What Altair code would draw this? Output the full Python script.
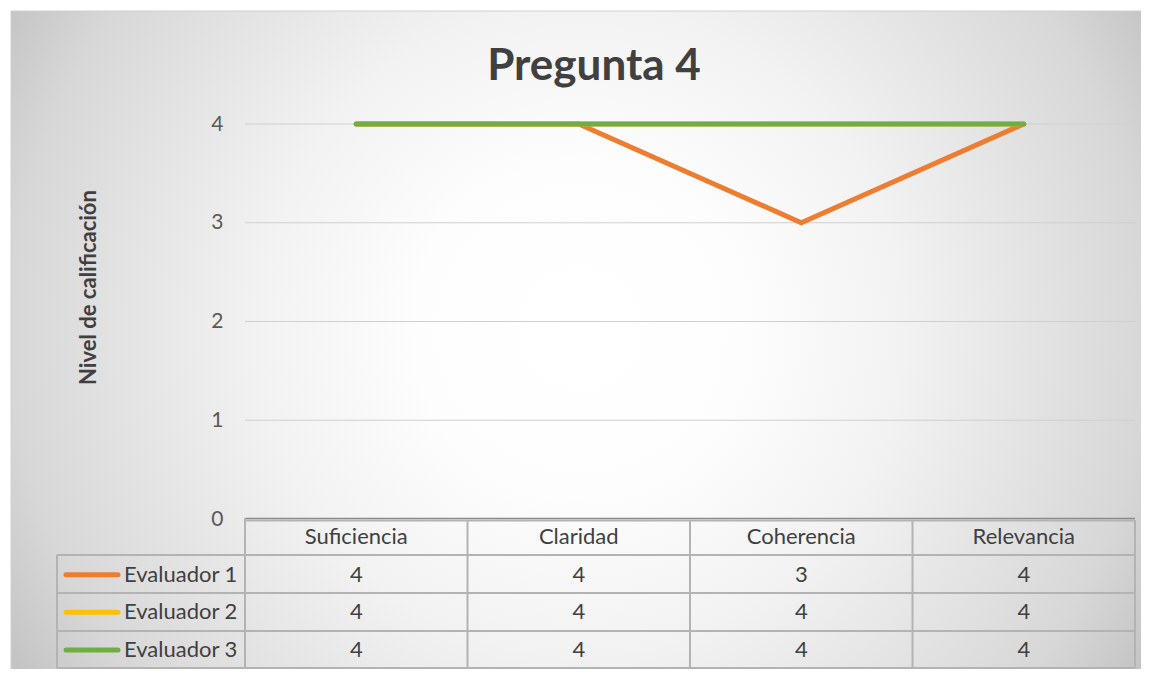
import altair as alt
import pandas as pd

# ---- data ----
categories = ["Suficiencia", "Claridad", "Coherencia", "Relevancia"]
series = ["Evaluador 1", "Evaluador 2", "Evaluador 3"]
evaluador_1 = [4, 4, 3, 4]
evaluador_2 = [4, 4, 4, 4]
evaluador_3 = [4, 4, 4, 4]
colors = ["#ED7D31", "#FFC000", "#70AD47"]
y_ticks = [0, 1, 2, 3, 4]
title_text = "Pregunta 4"
y_title = "Nivel de calificación"

values = [evaluador_1, evaluador_2, evaluador_3]
rows = []
for si, (s, vals) in enumerate(zip(series, values)):
    for c, v in zip(categories, vals):
        rows.append({"cat": c, "series": s, "value": v, "row": si + 1, "order": si})
df = pd.DataFrame(rows)
hdr = pd.DataFrame({"cat": categories, "row": [0] * len(categories)})
leg = pd.DataFrame({"series": series, "row": [i + 1 for i in range(len(series))]})
grid_df = pd.DataFrame({"v": [t for t in y_ticks if t > 0]})
one = pd.DataFrame({"a": [0]})

W, H = 890, 395
FONT = "Lato"

xscale = alt.Scale(type="point", domain=categories, padding=0.5)
yscale = alt.Scale(domain=[0, 4], nice=False, zero=True)
cscale = alt.Scale(domain=series, range=colors)
rowscale = alt.Scale(domain=[0, 3], range=[413, 526])

grad = alt.RadialGradient(
    gradient="radial",
    stops=[
        alt.GradientStop(offset=0.0, color="#ffffff"),
        alt.GradientStop(offset=0.25, color="#fdfdfd"),
        alt.GradientStop(offset=0.49, color="#f2f2f2"),
        alt.GradientStop(offset=0.86, color="#d7d7d7"),
        alt.GradientStop(offset=1.0, color="#c3c3c3"),
    ],
    x1=0.5, y1=0.5, r1=0, x2=0.5, y2=0.5, r2=0.5,
)

bg = alt.Chart(one).mark_rect(fill=grad).encode(
    x=alt.value(-325), x2=alt.value(995), y=alt.value(-454), y2=alt.value(866)
)
white_l = alt.Chart(one).mark_rect(fill="white").encode(
    x=alt.value(-240), x2=alt.value(-234), y=alt.value(-130), y2=alt.value(700)
)
white_t = alt.Chart(one).mark_rect(fill="white").encode(
    x=alt.value(-240), x2=alt.value(1000), y=alt.value(-130), y2=alt.value(-113)
)
border = alt.Chart(one).mark_rect(fill=None, stroke="#d0d0d0", strokeWidth=1).encode(
    x=alt.value(-234), x2=alt.value(920), y=alt.value(-113), y2=alt.value(600)
)

title = alt.Chart(one).mark_text(
    text=title_text, font=FONT, fontSize=44, fontWeight="bold", color="#404040",
    align="center", baseline="alphabetic"
).encode(x=alt.value(349), y=alt.value(-44))

grid = alt.Chart(grid_df).mark_rule(color="#cfcfcf", strokeWidth=1.2).encode(
    x=alt.value(0), x2=alt.value(W),
    y=alt.Y("v:Q", scale=yscale, axis=None),
)

lines = alt.Chart(df).mark_line(strokeWidth=5, strokeCap="round", strokeJoin="miter").encode(
    x=alt.X("cat:N", scale=xscale, axis=None, sort=categories),
    y=alt.Y(
        "value:Q",
        scale=yscale,
        axis=alt.Axis(
            values=y_ticks, title=y_title, grid=False, ticks=False, domain=False,
            labelFont=FONT, labelFontSize=21, labelColor="#595959", labelPadding=22,
            titleFont=FONT, titleFontSize=22, titleFontWeight="bold",
            titleColor="#404040", titleX=-157, titleY=163, titleAngle=270,
            titleAlign="center", titleBaseline="middle", zindex=1,
        ),
    ),
    color=alt.Color("series:N", scale=cscale, legend=None),
    order=alt.Order("order:Q"),
    detail="series:N",
)

zero_rule = alt.Chart(one).mark_rule(color="#8a8a8a", strokeWidth=1.5).encode(
    x=alt.value(0), x2=alt.value(W), y=alt.value(394.5)
)

grid_color = "#b3b3b3"
table_rules = []
for yy, x0 in [(396.5, 0), (431, -188), (469, -188), (507, -188), (544, -188)]:
    table_rules.append(
        alt.Chart(one).mark_rule(color=grid_color, strokeWidth=2).encode(
            x=alt.value(x0), x2=alt.value(W), y=alt.value(yy)
        )
    )
for xx, y0 in [(-188, 431), (0, 394), (222.5, 396), (445, 396), (667.5, 396), (W, 396)]:
    table_rules.append(
        alt.Chart(one).mark_rule(color=grid_color, strokeWidth=2).encode(
            x=alt.value(xx), y=alt.value(y0), y2=alt.value(544)
        )
    )

header = alt.Chart(hdr).mark_text(
    font=FONT, fontSize=22, color="#404040", align="center", baseline="middle"
).encode(
    x=alt.X("cat:N", scale=xscale, axis=None, sort=categories),
    y=alt.Y("row:Q", scale=rowscale, axis=None),
    text="cat:N",
)

cells = alt.Chart(df).mark_text(
    font=FONT, fontSize=22, color="#404040", align="center", baseline="middle"
).encode(
    x=alt.X("cat:N", scale=xscale, axis=None, sort=categories),
    y=alt.Y("row:Q", scale=rowscale, axis=None),
    text="value:Q",
)

swatch = alt.Chart(leg).mark_rule(strokeWidth=5, strokeCap="round").encode(
    x=alt.value(-179), x2=alt.value(-127),
    y=alt.Y("row:Q", scale=rowscale, axis=None),
    color=alt.Color("series:N", scale=cscale, legend=None),
)

leg_text = alt.Chart(leg).mark_text(
    font=FONT, fontSize=22, color="#404040", align="left", baseline="middle"
).encode(
    x=alt.value(-121),
    y=alt.Y("row:Q", scale=rowscale, axis=None),
    text="series:N",
)

chart = alt.layer(
    bg, white_l, white_t, border, title, grid, lines, zero_rule, *table_rules,
    header, cells, swatch, leg_text,
).resolve_scale(y="independent").properties(
    width=W, height=H,
    autosize=alt.AutoSizeParams(type="none"),
    padding={"left": 237, "top": 116, "right": 6, "bottom": 150},
).configure_view(stroke=None).configure(background="white")

chart.save("out.html", embed_options={"renderer": "svg", "actions": False})
